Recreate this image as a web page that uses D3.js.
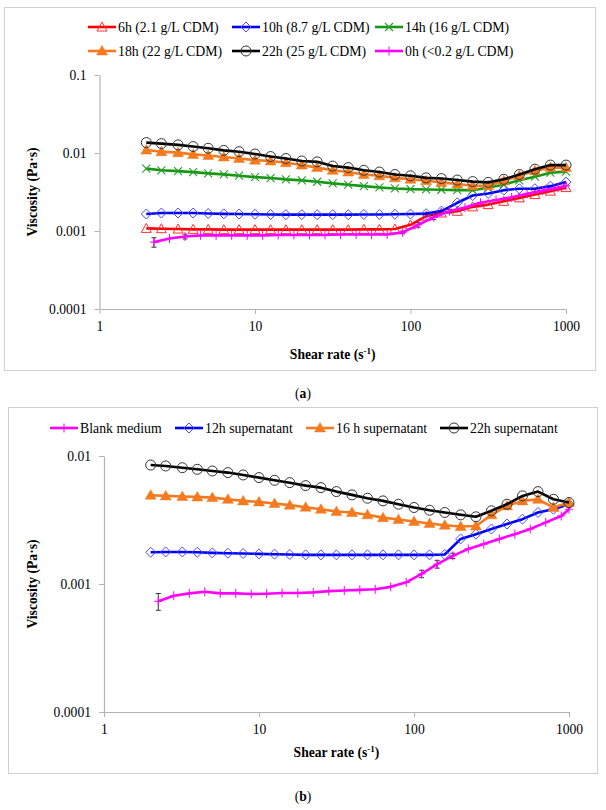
<!DOCTYPE html>
<html><head><meta charset="utf-8">
<script src="https://cdn.jsdelivr.net/npm/d3@7"></script>
<style>
body{margin:0;background:#fff}
svg{display:block}
svg text{font-family:"Liberation Serif","Times New Roman","DejaVu Serif",serif !important;fill:#000}
</style>
</head><body>
<svg id="c" width="606" height="810"></svg>
<script>
// ---------- DATA ----------
const shearRate = [2,2.5,3.2,4,5,6.3,7.9,10,12.6,15.8,20,25.1,31.6,39.8,50.1,63.1,79.4,100,126,158,200,251,316,398,501,631,794,1000];
const shearRateBlank = [2.24,2.82,3.55,4.47,5.62,7.08,8.91,11.2,14.1,17.8,22.4,28.2,35.5,44.7,56.2,70.8,89.1,112,141,178,224,282,355,447,562,708,891,1000];

// panel (a)
const aLabels = ["6h (2.1 g/L CDM)","10h (8.7 g/L CDM)","14h (16 g/L CDM)","18h (22 g/L CDM)","22h (25 g/L CDM)","0h (<0.2 g/L CDM)"];
const a6h  = [0.00108,0.00107,0.00106,0.00105,0.00105,0.00104,0.00104,0.00104,0.00104,0.00104,0.00104,0.00104,0.00104,0.00104,0.00105,0.00105,0.00106,0.0012,0.00155,0.0017,0.00179,0.00204,0.00218,0.0024,0.00266,0.00293,0.00324,0.0036];
const a10h = [0.00165,0.0017,0.0017,0.0017,0.00168,0.00166,0.00165,0.00164,0.00163,0.00162,0.00162,0.00162,0.00162,0.00162,0.00163,0.00163,0.00164,0.00165,0.00167,0.0018,0.0023,0.00285,0.00303,0.00334,0.00348,0.00348,0.00376,0.00424];
const a14h = [0.0063,0.006,0.00586,0.00569,0.00548,0.00532,0.00512,0.00491,0.00477,0.00459,0.00446,0.00428,0.00408,0.00392,0.00376,0.00362,0.00351,0.00344,0.00341,0.00338,0.00334,0.00334,0.00359,0.00395,0.00446,0.00497,0.0056,0.00577];
const a18h = [0.0109,0.0104,0.0101,0.0096,0.0093,0.0089,0.0085,0.0081,0.0079,0.0075,0.0070,0.0065,0.0060,0.0057,0.0053,0.0051,0.0048,0.0046,0.0044,0.0042,0.0040,0.0038,0.0038,0.0044,0.0051,0.0059,0.0065,0.0065];
const a22h = [0.0136,0.0132,0.0127,0.0121,0.0115,0.0108,0.0104,0.0097,0.0090,0.0085,0.0079,0.0077,0.0068,0.0065,0.0060,0.0057,0.0053,0.0051,0.0048,0.0047,0.0045,0.0043,0.0042,0.0046,0.0053,0.0062,0.0070,0.0070];
const a0h  = [0.00072,0.0008,0.00085,0.00088,0.00088,0.00088,0.00088,0.00088,0.00089,0.00089,0.00089,0.00089,0.0009,0.0009,0.0009,0.0009,0.00096,0.0012,0.0015,0.0018,0.002,0.0023,0.0025,0.0027,0.003,0.0033,0.0036,0.0038];
const a0hErr = [0.0001,0,0.00006,0,0,0,0,0,0,0,0,0,0,0,0,0,0.00004,0.00008,0.0001,0.0001,0,0,0,0,0,0,0,0];

// panel (b)
const bLabels = ["Blank medium","12h supernatant","16 h supernatant","22h supernatant"];
const bBlank = [0.000733,0.00081,0.000845,0.00087,0.000845,0.000845,0.000835,0.00084,0.00085,0.00085,0.00086,0.00088,0.00089,0.0009,0.00091,0.00095,0.00103,0.0012,0.00143,0.00166,0.00188,0.00205,0.00225,0.00245,0.00269,0.00303,0.0034,0.00384];
const bBlankErr = [0.00011,0,0,0,0,0,0,0,0,0,0,0,0,0,0,0,0,0.00008,0.0001,0.00008,0,0,0,0,0,0,0,0];
const b12h = [0.00177,0.00178,0.00178,0.00177,0.00175,0.00174,0.00173,0.00172,0.00171,0.0017,0.00169,0.00169,0.00169,0.00169,0.00169,0.00169,0.00169,0.00169,0.00169,0.0017,0.00225,0.00245,0.00269,0.00294,0.00321,0.00362,0.00384,0.0042];
const b16h = [0.00494,0.00488,0.00482,0.00479,0.00473,0.00459,0.00446,0.00438,0.00425,0.00413,0.00398,0.00384,0.00368,0.00362,0.00347,0.0033,0.00319,0.00308,0.00297,0.00288,0.00281,0.00284,0.00347,0.00407,0.00446,0.00459,0.00396,0.00433];
const b22h = [0.0085,0.00836,0.0081,0.00787,0.00764,0.00742,0.00711,0.00678,0.00646,0.00619,0.00587,0.00566,0.00527,0.00497,0.00468,0.00446,0.0042,0.00396,0.00377,0.00362,0.00347,0.00335,0.00373,0.0042,0.00488,0.00527,0.00459,0.00433];

const xTicks = [1,10,100,1000];
const yTicksA = [0.0001,0.001,0.01,0.1];
const yTicksB = [0.0001,0.001,0.01];

// ---------- STYLES ----------
const FONT = "'Liberation Serif','Times New Roman','DejaVu Serif',serif";
const ST = {
  red:    {line:"#ff0000", mk:"triOpen", mc:"#ff3030"},
  blue:   {line:"#0000ff", mk:"diamond", mc:"#4a4aff"},
  green:  {line:"#129a12", mk:"x",       mc:"#2a9a2a"},
  orange: {line:"#f57a1f", mk:"triFill", mc:"#f57a1f"},
  black:  {line:"#000000", mk:"circle",  mc:"#333333"},
  magenta:{line:"#ff00ff", mk:"plus",    mc:"#ff00ff"}
};

const svg = d3.select("#c");

function drawMarker(g, type, color, cx, cy){
  const m = g.append("g").attr("transform",`translate(${cx},${cy})`);
  if(type==="triOpen") m.append("path").attr("d","M0,-5L5,4L-5,4Z").attr("fill","none").attr("stroke",color).attr("stroke-width",1);
  else if(type==="triFill") m.append("path").attr("d","M0,-5.5L5.5,4L-5.5,4Z").attr("fill",color).attr("stroke",color).attr("stroke-width",0.5);
  else if(type==="diamond") m.append("path").attr("d","M0,-5L5,0L0,5L-5,0Z").attr("fill","none").attr("stroke",color).attr("stroke-width",1);
  else if(type==="circle") m.append("circle").attr("r",5).attr("fill","none").attr("stroke",color).attr("stroke-width",1);
  else if(type==="x") m.append("path").attr("d","M-4,-4L4,4M-4,4L4,-4").attr("stroke",color).attr("stroke-width",1.1);
  else if(type==="plus") m.append("path").attr("d","M0,-4.5L0,4.5M-4,0L4,0").attr("stroke",color).attr("stroke-width",1);
}

function panel(cfg){
  const g = svg.append("g");
  g.append("rect").attr("x",cfg.box[0]).attr("y",cfg.box[1]).attr("width",cfg.box[2]).attr("height",cfg.box[3])
    .attr("fill","#fff").attr("stroke","#d0d0d0").attr("stroke-width",1);
  const x = d3.scaleLog().domain([1,1000]).range(cfg.xr);
  const y = d3.scaleLog().domain(cfg.yd).range(cfg.yr);

  const minorX = [];
  for(let d=1; d<1000; d*=10) for(let k=2;k<10;k++) minorX.push(d*k);
  const minorY = [];
  for(let d=cfg.yd[0]; d<cfg.yd[1]*0.999; d*=10) for(let k=2;k<10;k++) minorY.push(d*k);

  const axC = "#b3b3b3";
  const gx = g.append("g").attr("transform",`translate(0,${cfg.yr[0]})`);
  gx.call(d3.axisBottom(x).tickValues(minorX).tickSize(3).tickSizeOuter(0).tickFormat(""));
  gx.call(d3.axisBottom(x).tickValues(xTicks).tickSize(5).tickSizeOuter(0).tickPadding(7).tickFormat(d3.format("d")));
  const gy = g.append("g").attr("transform",`translate(${cfg.xr[0]},0)`);
  gy.call(d3.axisLeft(y).tickValues(minorY).tickSize(3).tickSizeOuter(0).tickFormat(""));
  gy.call(d3.axisLeft(y).tickValues(cfg.yTicks).tickSize(5).tickSizeOuter(0).tickPadding(8).tickFormat(d=>String(d)));
  g.selectAll("g").attr("font-family",FONT);
  g.selectAll(".domain").attr("stroke",axC).attr("stroke-width",1.2);
  g.selectAll(".tick line").attr("stroke",axC);
  g.selectAll(".tick text").attr("font-size",13.6).style("font-family",FONT);

  const xt = g.append("text").attr("x",(cfg.xr[0]+cfg.xr[1])/2).attr("y",cfg.xTitleY).attr("text-anchor","middle")
    .attr("font-size",13.6).attr("font-weight","bold").style("font-family",FONT);
  xt.append("tspan").text("Shear rate (s");
  xt.append("tspan").text("-1").attr("font-size",9).attr("dy",-5);
  xt.append("tspan").text(")").attr("dy",5);
  g.append("text").attr("transform",`translate(${cfg.yTitleX},${(cfg.yr[0]+cfg.yr[1])/2}) rotate(-90)`)
    .attr("text-anchor","middle").attr("font-size",13.6).attr("font-weight","bold").style("font-family",FONT).text("Viscosity (Pa·s)");

  const line = d3.line().x(d=>x(d[0])).y(d=>y(d[1]));
  cfg.series.forEach(s=>{
    const st = ST[s.style];
    const pts = s.x.map((xv,i)=>[xv,s.v[i]]);
    const sg = g.append("g");
    if(s.err){
      pts.forEach((p,i)=>{
        const e = s.err[i]; if(!e) return;
        const y1 = y(p[1]-e), y2 = y(p[1]+e), cx = x(p[0]);
        sg.append("path").attr("d",`M${cx},${y1}L${cx},${y2}M${cx-2.5},${y1}L${cx+2.5},${y1}M${cx-2.5},${y2}L${cx+2.5},${y2}`)
          .attr("stroke","#333").attr("stroke-width",1).attr("fill","none");
      });
    }
    sg.append("path").datum(pts).attr("d",line).attr("fill","none").attr("stroke",st.line).attr("stroke-width",2.6).attr("stroke-linejoin","round");
    pts.forEach(p=>drawMarker(sg, st.mk, st.mc, x(p[0]), y(p[1])));
  });

  cfg.legend.forEach(l=>{
    const st = ST[l.style];
    g.append("line").attr("x1",l.x).attr("x2",l.x+28).attr("y1",l.y).attr("y2",l.y).attr("stroke",st.line).attr("stroke-width",2.6);
    drawMarker(g, st.mk, st.mc, l.x+14, l.y);
    g.append("text").attr("x",l.x+30).attr("y",l.y+4.7).attr("font-size",13.8).style("font-family",FONT).text(l.label);
  });

  const cap = svg.append("text").attr("x",303).attr("y",cfg.capY).attr("text-anchor","middle").attr("font-size",13.6).style("font-family",FONT);
  cap.append("tspan").text("(");
  cap.append("tspan").attr("font-weight","bold").text(cfg.cap);
  cap.append("tspan").text(")");
}

panel({
  box:[4.5,7.5,591,363], xr:[99.5,566], yd:[0.0001,0.1], yr:[309,75], yTicks:yTicksA,
  xTitleY:359, yTitleX:37, capY:398, cap:"a",
  series:[
    {x:shearRate, v:a6h, style:"red"},
    {x:shearRate, v:a10h, style:"blue"},
    {x:shearRate, v:a14h, style:"green"},
    {x:shearRate, v:a18h, style:"orange"},
    {x:shearRate, v:a22h, style:"black"},
    {x:shearRateBlank, v:a0h, style:"magenta", err:a0hErr}
  ],
  legend:[
    {x:88,y:27,label:aLabels[0],style:"red"},
    {x:232,y:27,label:aLabels[1],style:"blue"},
    {x:375,y:27,label:aLabels[2],style:"green"},
    {x:88,y:51,label:aLabels[3],style:"orange"},
    {x:232,y:51,label:aLabels[4],style:"black"},
    {x:375,y:51,label:aLabels[5],style:"magenta"}
  ]
});

panel({
  box:[8.5,407.5,589,366], xr:[104,569], yd:[0.0001,0.01], yr:[712,456], yTicks:yTicksB,
  xTitleY:757, yTitleX:37, capY:801, cap:"b",
  series:[
    {x:shearRateBlank, v:bBlank, style:"magenta", err:bBlankErr},
    {x:shearRate, v:b12h, style:"blue"},
    {x:shearRate, v:b16h, style:"orange"},
    {x:shearRate, v:b22h, style:"black"}
  ],
  legend:[
    {x:50,y:428,label:bLabels[0],style:"magenta"},
    {x:175,y:428,label:bLabels[1],style:"blue"},
    {x:306,y:428,label:bLabels[2],style:"orange"},
    {x:440,y:428,label:bLabels[3],style:"black"}
  ]
});
</script>
</body></html>
